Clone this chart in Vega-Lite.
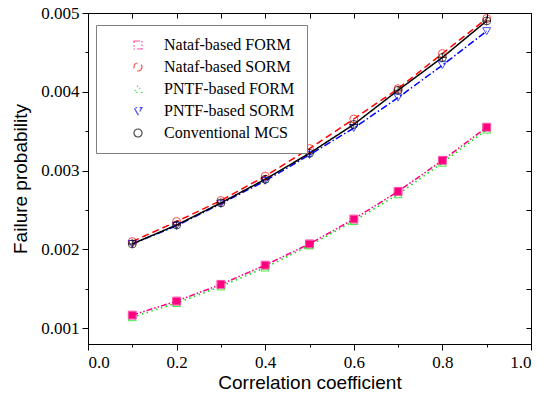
{
  "$schema": "https://vega.github.io/schema/vega-lite/v6.json",
  "width": 443,
  "height": 331,
  "autosize": "none",
  "padding": {"left": 88, "top": 13, "right": 13, "bottom": 50},
  "background": "white",
  "config": {
    "view": {"stroke": "black", "strokeWidth": 1},
    "axis": {"grid": false, "domainColor": "black", "tickColor": "black", "labelColor": "black", "titleColor": "black", "labelFont": "Liberation Serif", "labelFontSize": 17, "titleFont": "Liberation Sans", "titleFontSize": 19, "titleFontWeight": "normal", "tickSize": 6}
  },
  "data": {"values": [
    {"x": 0.1, "s": "Nataf-based FORM", "p": 0.001166},
    {"x": 0.2, "s": "Nataf-based FORM", "p": 0.001344},
    {"x": 0.3, "s": "Nataf-based FORM", "p": 0.001556},
    {"x": 0.4, "s": "Nataf-based FORM", "p": 0.0018},
    {"x": 0.5, "s": "Nataf-based FORM", "p": 0.00207},
    {"x": 0.6, "s": "Nataf-based FORM", "p": 0.002385},
    {"x": 0.7, "s": "Nataf-based FORM", "p": 0.002736},
    {"x": 0.8, "s": "Nataf-based FORM", "p": 0.00313},
    {"x": 0.9, "s": "Nataf-based FORM", "p": 0.00355},
    {"x": 0.1, "s": "Nataf-based SORM", "p": 0.0021},
    {"x": 0.2, "s": "Nataf-based SORM", "p": 0.002354},
    {"x": 0.3, "s": "Nataf-based SORM", "p": 0.00262},
    {"x": 0.4, "s": "Nataf-based SORM", "p": 0.00293},
    {"x": 0.5, "s": "Nataf-based SORM", "p": 0.00328},
    {"x": 0.6, "s": "Nataf-based SORM", "p": 0.003655},
    {"x": 0.7, "s": "Nataf-based SORM", "p": 0.00404},
    {"x": 0.8, "s": "Nataf-based SORM", "p": 0.004486},
    {"x": 0.9, "s": "Nataf-based SORM", "p": 0.00493},
    {"x": 0.1, "s": "PNTF-based FORM", "p": 0.00114},
    {"x": 0.2, "s": "PNTF-based FORM", "p": 0.00132},
    {"x": 0.3, "s": "PNTF-based FORM", "p": 0.00153},
    {"x": 0.4, "s": "PNTF-based FORM", "p": 0.00177},
    {"x": 0.5, "s": "PNTF-based FORM", "p": 0.00205},
    {"x": 0.6, "s": "PNTF-based FORM", "p": 0.00236},
    {"x": 0.7, "s": "PNTF-based FORM", "p": 0.0027},
    {"x": 0.8, "s": "PNTF-based FORM", "p": 0.0031},
    {"x": 0.9, "s": "PNTF-based FORM", "p": 0.00352},
    {"x": 0.1, "s": "PNTF-based SORM", "p": 0.00207},
    {"x": 0.2, "s": "PNTF-based SORM", "p": 0.0023},
    {"x": 0.3, "s": "PNTF-based SORM", "p": 0.00258},
    {"x": 0.4, "s": "PNTF-based SORM", "p": 0.00287},
    {"x": 0.5, "s": "PNTF-based SORM", "p": 0.0032},
    {"x": 0.6, "s": "PNTF-based SORM", "p": 0.00354},
    {"x": 0.7, "s": "PNTF-based SORM", "p": 0.003926},
    {"x": 0.8, "s": "PNTF-based SORM", "p": 0.004338},
    {"x": 0.9, "s": "PNTF-based SORM", "p": 0.00477},
    {"x": 0.1, "s": "Conventional MCS", "p": 0.00207},
    {"x": 0.2, "s": "Conventional MCS", "p": 0.00231},
    {"x": 0.3, "s": "Conventional MCS", "p": 0.00259},
    {"x": 0.4, "s": "Conventional MCS", "p": 0.00289},
    {"x": 0.5, "s": "Conventional MCS", "p": 0.00322},
    {"x": 0.6, "s": "Conventional MCS", "p": 0.003586},
    {"x": 0.7, "s": "Conventional MCS", "p": 0.00402},
    {"x": 0.8, "s": "Conventional MCS", "p": 0.004436},
    {"x": 0.9, "s": "Conventional MCS", "p": 0.0049}
  ]},
  "resolve": {"axis": {"x": "independent", "y": "independent"}},
  "layer": [
    {
      "mark": {"type": "line", "strokeWidth": 1.5},
      "encoding": {
        "x": {"field": "x", "type": "quantitative", "scale": {"domain": [0, 1], "nice": false},
          "axis": {"title": "Correlation coefficient", "values": [0, 0.2, 0.4, 0.6, 0.8, 1.0], "format": ".1f", "titlePadding": 3, "labelPadding": 4, "labelFont": "Liberation Serif", "labelFontSize": 17, "titleFont": "Liberation Sans", "titleFontSize": 19}},
        "y": {"field": "p", "type": "quantitative", "scale": {"domain": [0.0008, 0.005], "nice": false, "zero": false},
          "axis": {"title": "Failure probability", "values": [0.001, 0.002, 0.003, 0.004, 0.005], "format": ".3f", "titlePadding": 10, "labelPadding": 3, "labelFont": "Liberation Serif", "labelFontSize": 17, "titleFont": "Liberation Sans", "titleFontSize": 19}},
        "color": {"field": "s", "type": "nominal",
          "scale": {"domain": ["Nataf-based FORM", "Nataf-based SORM", "PNTF-based FORM", "PNTF-based SORM", "Conventional MCS"], "range": ["#ff0080", "#ff0000", "#00e000", "#0000ff", "#000000"]},
          "legend": {"title": null, "orient": "none", "legendX": 8, "legendY": 12, "labelFont": "Liberation Serif", "labelFontSize": 16, "labelColor": "black", "strokeColor": "#808080", "padding": 12, "rowPadding": 6, "symbolSize": 64, "symbolOffset": 22, "symbolStrokeWidth": 1.2, "labelOffset": 18, "fillColor": "white"}},
        "strokeDash": {"field": "s", "type": "nominal", "legend": null,
          "scale": {"domain": ["Nataf-based FORM", "Nataf-based SORM", "PNTF-based FORM", "PNTF-based SORM", "Conventional MCS"], "range": [[6, 2, 1.5, 2, 1.5, 2], [7, 4], [1.5, 3.5], [7, 2.5, 1.5, 2.5], [1, 0]]}}
      }
    },
    {
      "mark": {"type": "point", "filled": false, "size": 64, "strokeWidth": 1},
      "encoding": {
        "x": {"field": "x", "type": "quantitative", "axis": null},
        "y": {"field": "p", "type": "quantitative", "axis": null},
        "color": {"field": "s", "type": "nominal"},
        "shape": {"field": "s", "type": "nominal",
          "scale": {"domain": ["Nataf-based FORM", "Nataf-based SORM", "PNTF-based FORM", "PNTF-based SORM", "Conventional MCS"], "range": ["square", "circle", "triangle-up", "triangle-down", "circle"]}}
      }
    },
    {
      "transform": [{"filter": "datum.s == 'Nataf-based FORM'"}],
      "mark": {"type": "point", "filled": true, "shape": "square", "size": 50, "color": "#ff0080", "opacity": 1},
      "encoding": {
        "x": {"field": "x", "type": "quantitative", "axis": null},
        "y": {"field": "p", "type": "quantitative", "axis": null}
      }
    },
    {
      "transform": [{"filter": "datum.s == 'Conventional MCS'"}],
      "mark": {"type": "point", "filled": false, "shape": "M-1,0H1M0,-1V1", "size": 70, "color": "black", "strokeWidth": 1},
      "encoding": {
        "x": {"field": "x", "type": "quantitative", "axis": null},
        "y": {"field": "p", "type": "quantitative", "axis": null}
      }
    },
    {
      "mark": {"type": "rule", "strokeOpacity": 0},
      "encoding": {
        "x": {"datum": 0, "type": "quantitative", "axis": {"orient": "bottom", "values": [0.1, 0.3, 0.5, 0.7, 0.9], "labels": false, "domain": false, "title": null, "tickSize": 3}},
        "y": {"datum": 0.001, "type": "quantitative", "axis": {"orient": "left", "values": [0.0015, 0.0025, 0.0035, 0.0045], "labels": false, "domain": false, "title": null, "tickSize": 3}}
      }
    },
    {
      "mark": {"type": "rule", "strokeOpacity": 0},
      "encoding": {
        "x": {"datum": 0, "type": "quantitative", "axis": {"orient": "top", "values": [0, 0.1, 0.2, 0.3, 0.4, 0.5, 0.6, 0.7, 0.8, 0.9, 1.0], "labels": false, "title": null, "tickSize": -5}},
        "y": {"datum": 0.001, "type": "quantitative", "axis": {"orient": "right", "values": [0.001, 0.0015, 0.002, 0.0025, 0.003, 0.0035, 0.004, 0.0045, 0.005], "labels": false, "title": null, "tickSize": -5}}
      }
    }
  ]
}
